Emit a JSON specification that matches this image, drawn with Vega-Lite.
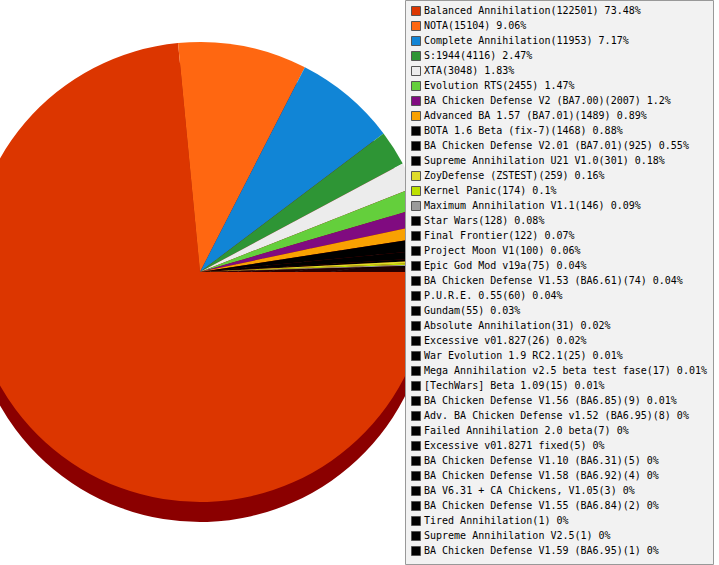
{
  "$schema": "https://vega.github.io/schema/vega-lite/v6.json",
  "width": 400,
  "height": 544,
  "autosize": {"type": "none"},
  "padding": {"left": 0, "top": 0, "right": 319, "bottom": 21},
  "background": "white",
  "data": {
    "values": [
      {"idx": 1, "mod": "Balanced Annihilation(122501) 73.48%", "games": 122501},
      {"idx": 2, "mod": "NOTA(15104) 9.06%", "games": 15104},
      {"idx": 3, "mod": "Complete Annihilation(11953) 7.17%", "games": 11953},
      {"idx": 4, "mod": "S:1944(4116) 2.47%", "games": 4116},
      {"idx": 5, "mod": "XTA(3048) 1.83%", "games": 3048},
      {"idx": 6, "mod": "Evolution RTS(2455) 1.47%", "games": 2455},
      {"idx": 7, "mod": "BA Chicken Defense V2 (BA7.00)(2007) 1.2%", "games": 2007},
      {"idx": 8, "mod": "Advanced BA 1.57 (BA7.01)(1489) 0.89%", "games": 1489},
      {"idx": 9, "mod": "BOTA 1.6 Beta (fix-7)(1468) 0.88%", "games": 1468},
      {"idx": 10, "mod": "BA Chicken Defense V2.01 (BA7.01)(925) 0.55%", "games": 925},
      {"idx": 11, "mod": "Supreme Annihilation U21 V1.0(301) 0.18%", "games": 301},
      {"idx": 12, "mod": "ZoyDefense (ZSTEST)(259) 0.16%", "games": 259},
      {"idx": 13, "mod": "Kernel Panic(174) 0.1%", "games": 174},
      {"idx": 14, "mod": "Maximum Annihilation V1.1(146) 0.09%", "games": 146},
      {"idx": 15, "mod": "Star Wars(128) 0.08%", "games": 128},
      {"idx": 16, "mod": "Final Frontier(122) 0.07%", "games": 122},
      {"idx": 17, "mod": "Project Moon V1(100) 0.06%", "games": 100},
      {"idx": 18, "mod": "Epic God Mod v19a(75) 0.04%", "games": 75},
      {"idx": 19, "mod": "BA Chicken Defense V1.53 (BA6.61)(74) 0.04%", "games": 74},
      {"idx": 20, "mod": "P.U.R.E. 0.55(60) 0.04%", "games": 60},
      {"idx": 21, "mod": "Gundam(55) 0.03%", "games": 55},
      {"idx": 22, "mod": "Absolute Annihilation(31) 0.02%", "games": 31},
      {"idx": 23, "mod": "Excessive v01.827(26) 0.02%", "games": 26},
      {"idx": 24, "mod": "War Evolution 1.9 RC2.1(25) 0.01%", "games": 25},
      {"idx": 25, "mod": "Mega Annihilation v2.5 beta test fase(17) 0.01%", "games": 17},
      {"idx": 26, "mod": "[TechWars] Beta 1.09(15) 0.01%", "games": 15},
      {"idx": 27, "mod": "BA Chicken Defense V1.56 (BA6.85)(9) 0.01%", "games": 9},
      {"idx": 28, "mod": "Adv. BA Chicken Defense v1.52 (BA6.95)(8) 0%", "games": 8},
      {"idx": 29, "mod": "Failed Annihilation 2.0 beta(7) 0%", "games": 7},
      {"idx": 30, "mod": "Excessive v01.8271 fixed(5) 0%", "games": 5},
      {"idx": 31, "mod": "BA Chicken Defense V1.10 (BA6.31)(5) 0%", "games": 5},
      {"idx": 32, "mod": "BA Chicken Defense V1.58 (BA6.92)(4) 0%", "games": 4},
      {"idx": 33, "mod": "BA V6.31 + CA Chickens, V1.05(3) 0%", "games": 3},
      {"idx": 34, "mod": "BA Chicken Defense V1.55 (BA6.84)(2) 0%", "games": 2},
      {"idx": 35, "mod": "Tired Annihilation(1) 0%", "games": 1},
      {"idx": 36, "mod": "Supreme Annihilation V2.5(1) 0%", "games": 1},
      {"idx": 37, "mod": "BA Chicken Defense V1.59 (BA6.95)(1) 0%", "games": 1}
    ]
  },
  "encoding": {
    "theta": {
      "field": "games",
      "type": "quantitative",
      "stack": true,
      "scale": {"range": [1.5708, 7.854]}
    },
    "order": {"field": "idx", "type": "quantitative"}
  },
  "layer": [
    {
      "mark": {"type": "arc", "outerRadius": 230, "yOffset": 20, "color": "#8b0000"}
    },
    {
      "mark": {"type": "arc", "outerRadius": 230},
      "encoding": {
        "color": {
          "field": "mod",
          "type": "nominal",
          "scale": {
            "domain": [
              "Balanced Annihilation(122501) 73.48%",
              "NOTA(15104) 9.06%",
              "Complete Annihilation(11953) 7.17%",
              "S:1944(4116) 2.47%",
              "XTA(3048) 1.83%",
              "Evolution RTS(2455) 1.47%",
              "BA Chicken Defense V2 (BA7.00)(2007) 1.2%",
              "Advanced BA 1.57 (BA7.01)(1489) 0.89%",
              "BOTA 1.6 Beta (fix-7)(1468) 0.88%",
              "BA Chicken Defense V2.01 (BA7.01)(925) 0.55%",
              "Supreme Annihilation U21 V1.0(301) 0.18%",
              "ZoyDefense (ZSTEST)(259) 0.16%",
              "Kernel Panic(174) 0.1%",
              "Maximum Annihilation V1.1(146) 0.09%",
              "Star Wars(128) 0.08%",
              "Final Frontier(122) 0.07%",
              "Project Moon V1(100) 0.06%",
              "Epic God Mod v19a(75) 0.04%",
              "BA Chicken Defense V1.53 (BA6.61)(74) 0.04%",
              "P.U.R.E. 0.55(60) 0.04%",
              "Gundam(55) 0.03%",
              "Absolute Annihilation(31) 0.02%",
              "Excessive v01.827(26) 0.02%",
              "War Evolution 1.9 RC2.1(25) 0.01%",
              "Mega Annihilation v2.5 beta test fase(17) 0.01%",
              "[TechWars] Beta 1.09(15) 0.01%",
              "BA Chicken Defense V1.56 (BA6.85)(9) 0.01%",
              "Adv. BA Chicken Defense v1.52 (BA6.95)(8) 0%",
              "Failed Annihilation 2.0 beta(7) 0%",
              "Excessive v01.8271 fixed(5) 0%",
              "BA Chicken Defense V1.10 (BA6.31)(5) 0%",
              "BA Chicken Defense V1.58 (BA6.92)(4) 0%",
              "BA V6.31 + CA Chickens, V1.05(3) 0%",
              "BA Chicken Defense V1.55 (BA6.84)(2) 0%",
              "Tired Annihilation(1) 0%",
              "Supreme Annihilation V2.5(1) 0%",
              "BA Chicken Defense V1.59 (BA6.95)(1) 0%"
            ],
            "range": [
              "#dc3600", "#ff6711", "#1185d6", "#2e9535", "#ececec",
              "#64cf3c", "#800b80", "#f9a102", "#000000", "#000000",
              "#000000", "#dfdc2a", "#bde000", "#9b9b9b", "#000000",
              "#000000", "#000000", "#000000", "#000000", "#000000",
              "#000000", "#000000", "#000000", "#000000", "#000000",
              "#000000", "#000000", "#000000", "#000000", "#000000",
              "#000000", "#000000", "#000000", "#000000", "#000000",
              "#000000", "#000000"
            ]
          },
          "legend": {
            "title": null,
            "orient": "right",
            "offset": 5,
            "zindex": 1
          }
        }
      }
    }
  ],
  "config": {
    "view": {"stroke": null},
    "legend": {
      "padding": 6,
      "fillColor": "#f2f2f2",
      "strokeColor": "#999999",
      "symbolType": "square",
      "symbolSize": 81,
      "symbolStrokeColor": "#555555",
      "symbolStrokeWidth": 1,
      "labelFont": "DejaVu Sans Mono",
      "labelFontSize": 10,
      "labelColor": "#000000",
      "labelOffset": 3,
      "labelLimit": 0,
      "rowPadding": 1,
      "symbolLimit": 0
    }
  }
}
